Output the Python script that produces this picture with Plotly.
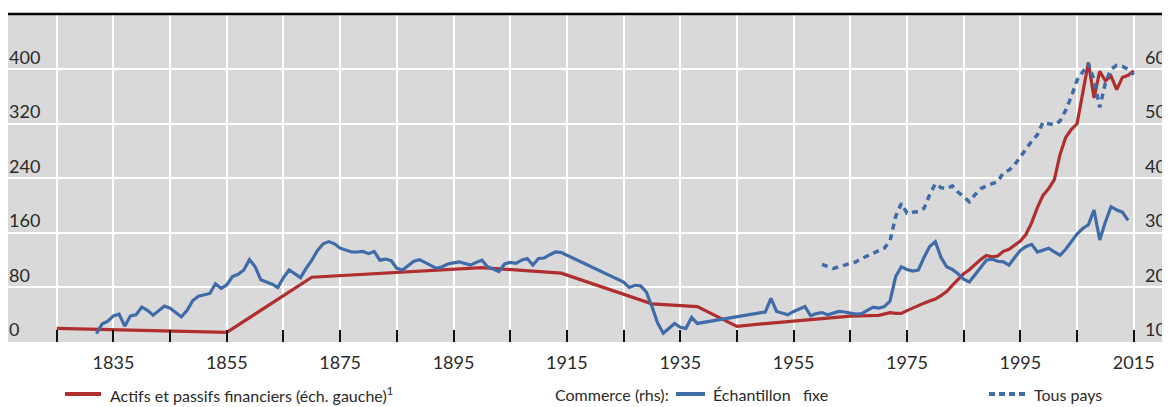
import plotly.graph_objects as go

# ---- Data ----
fin_years = [1825, 1855, 1870, 1900, 1914, 1930, 1938, 1945, 1950, 1955, 1960, 1965, 1970,
             1972, 1973, 1974, 1975, 1976, 1977, 1978, 1979, 1980, 1981, 1982, 1983, 1984,
             1985, 1986, 1987, 1988, 1989, 1990, 1991, 1992, 1993, 1994, 1995, 1996, 1997,
             1998, 1999, 2000, 2001, 2002, 2003, 2004, 2005, 2006, 2007, 2008, 2009, 2010,
             2011, 2012, 2013, 2014, 2015]
fin_values = [20, 14, 95, 109, 101, 56, 52, 23, 27, 31, 34, 38, 39,
              43, 42, 42, 46, 50, 53, 57, 60, 63, 68, 74, 83, 92,
              100, 106, 114, 121, 127, 125, 126, 133, 136, 142, 148, 158, 175,
              197, 215, 225, 238, 275, 300, 312, 320, 365, 410, 358, 397, 383,
              390, 370, 388, 391, 398]

fixed_years = list(range(1832, 1915)) + list(range(1924, 1939)) + list(range(1950, 2015))
fixed_values = [
    # 1832-1914
    11.5, 13.3, 13.8, 14.8, 15.1, 12.9, 14.8, 15.0, 16.4, 15.8,
    14.9, 15.8, 16.6, 16.2, 15.4, 14.6, 15.8, 17.6, 18.4, 18.6,
    18.9, 20.7, 19.8, 20.5, 22.0, 22.4, 23.2, 25.1, 23.8, 21.4,
    21.0, 20.6, 20.0, 21.8, 23.2, 22.5, 21.8, 23.5, 25.0, 26.8,
    28.0, 28.4, 28.0, 27.2, 26.8, 26.5, 26.5, 26.6, 26.2, 26.6,
    25.0, 25.2, 24.9, 23.5, 23.2, 24.0, 24.8, 25.1, 24.6, 24.0,
    23.5, 23.8, 24.3, 24.5, 24.7, 24.4, 24.1, 24.6, 25.0, 23.8,
    23.4, 22.9, 24.3, 24.6, 24.4, 25.0, 25.3, 24.1, 25.3, 25.4,
    26.0, 26.5, 26.4,
    # 1924-1938
    21.6, 21.0, 20.0, 20.4, 20.3, 19.2, 16.5, 13.5, 11.6, 12.6,
    13.4, 12.7, 12.5, 14.5, 13.4,
    # 1950-2014
    15.5, 18.0, 15.6, 15.3, 15.0, 15.6, 16.0, 16.5, 14.8, 15.2,
    15.4, 15.0, 15.3, 15.6, 15.5, 15.3, 15.1, 15.2, 15.8, 16.4,
    16.2, 16.5, 17.5, 22.0, 23.8, 23.3, 23.0, 23.2, 25.5, 27.5,
    28.4, 25.5, 23.8, 23.3, 22.5, 21.5, 21.0, 22.3, 23.5, 25.0,
    25.2, 24.8, 24.7, 24.1, 25.5, 26.8, 27.5, 27.9, 26.5, 26.8,
    27.2, 26.5, 25.9, 27.0, 28.5, 29.8, 30.8, 31.5, 34.2, 28.7,
    32.0, 34.8, 34.2, 33.8, 32.3,
]

all_years = list(range(1960, 2016))
all_values = [24.2, 23.8, 23.5, 23.8, 24.1, 24.4, 24.7, 25.3, 25.8, 26.2,
              26.7, 27.2, 28.5, 33.0, 35.4, 33.6, 33.8, 33.9, 34.5, 37.0,
              39.0, 38.3, 38.1, 38.6, 37.5, 36.5, 35.7, 37.0, 38.1, 38.6,
              39.0, 39.4, 41.0, 41.5, 42.5, 44.0, 45.5, 46.8, 48.0, 50.3,
              50.0, 49.8, 50.5, 52.5, 55.0, 58.0, 59.5, 61.0, 58.0, 53.0,
              57.5, 60.0, 60.7, 60.5, 60.0, 59.0]

x_label_years = list(range(1835, 2016, 20))
x_minor_years = list(range(1825, 2016, 20))
left_ticks = [0, 80, 160, 240, 320, 400]
right_ticks = [10, 20, 30, 40, 50, 60]

RED = "#B02E2E"
BLUE = "#3F6BA8"
FONT = "Lato"
TXT = "#2a2a2a"

# The page body keeps its default 8px margin, so the figure is drawn
# 8px right / 8px down: size it to fill the rest of the 1170x407 window.
FIG_W, FIG_H = 1162, 399
M_L, M_R, M_T, M_B = 0, 0, 6, 65
PLOT_W = FIG_W - M_L - M_R
PLOT_H = FIG_H - M_T - M_B

fig = go.Figure()
fig.add_trace(go.Scatter(x=fin_years, y=fin_values, mode="lines",
                         line=dict(color=RED, width=3.2), yaxis="y", showlegend=False))
fig.add_trace(go.Scatter(x=fixed_years, y=fixed_values, mode="lines",
                         line=dict(color=BLUE, width=3.2), yaxis="y2", showlegend=False))
fig.add_trace(go.Scatter(x=all_years, y=all_values, mode="lines",
                         line=dict(color=BLUE, width=3.5, dash="6px,5px"), yaxis="y2",
                         showlegend=False))

fig.update_layout(
    width=FIG_W, height=FIG_H,
    margin=dict(l=M_L, r=M_R, t=M_T, b=M_B, pad=0),
    paper_bgcolor="white", plot_bgcolor="#D9D9D9",
    font=dict(family=FONT, size=18, color=TXT),
    xaxis=dict(range=[1816.4, 2021.4], tickvals=x_label_years,
               ticks="inside", ticklen=12, tickwidth=2, tickcolor="#111",
               showgrid=True, gridcolor="white", gridwidth=1.5, zeroline=False,
               showline=False, ticklabelstandoff=8, tickfont=dict(size=18),
               minor=dict(tickvals=x_minor_years, ticks="inside", ticklen=12,
                          tickwidth=2, tickcolor="#111", showgrid=True,
                          gridcolor="white", gridwidth=1.5)),
    yaxis=dict(range=[0, 481], tickvals=left_ticks, ticks="", showgrid=True,
               gridcolor="white", gridwidth=1.5, zeroline=False, showline=False,
               anchor="free", position=0.0, side="right",
               ticklabelshift=-12, ticklabelstandoff=0, tickfont=dict(size=18)),
    yaxis2=dict(range=[10, 70.125], tickvals=right_ticks, ticks="", showgrid=False,
                overlaying="y", anchor="free", position=0.9776, side="right",
                zeroline=False, showline=False,
                ticklabelshift=-12, ticklabelstandoff=0, tickfont=dict(size=18)),
)

# top rule
fig.add_shape(type="line", xref="paper", yref="paper", x0=0, x1=1, y0=1, y1=1,
              line=dict(color="black", width=2.5))

# custom legend (positions given in window pixels)
def px_x(px):
    return (px - 8 - M_L) / PLOT_W

def px_y(py):
    return (FIG_H - M_B - (py - 8)) / PLOT_H

LEG_Y = px_y(394)
fig.add_shape(type="line", xref="paper", yref="paper", x0=px_x(65), x1=px_x(101),
              y0=LEG_Y, y1=LEG_Y, line=dict(color=RED, width=4))
fig.add_shape(type="line", xref="paper", yref="paper", x0=px_x(676), x1=px_x(705),
              y0=LEG_Y, y1=LEG_Y, line=dict(color=BLUE, width=4))
fig.add_shape(type="line", xref="paper", yref="paper", x0=px_x(989), x1=px_x(1025),
              y0=LEG_Y, y1=LEG_Y, line=dict(color=BLUE, width=4, dash="6px,4px"))

legend_texts = [
    (108, "Actifs et passifs financiers (éch. gauche)<sup>1</sup>"),
    (553, "Commerce (rhs):"),
    (711, "Échantillon\u00a0\u00a0\u00a0fixe"),
    (1032, "Tous pays"),
]
for px, t in legend_texts:
    fig.add_annotation(text=t, xref="paper", yref="paper", x=px_x(px), y=LEG_Y,
                       xanchor="left", yanchor="middle", showarrow=False,
                       font=dict(family=FONT, size=16, color=TXT))

fig.write_html("out.html")
